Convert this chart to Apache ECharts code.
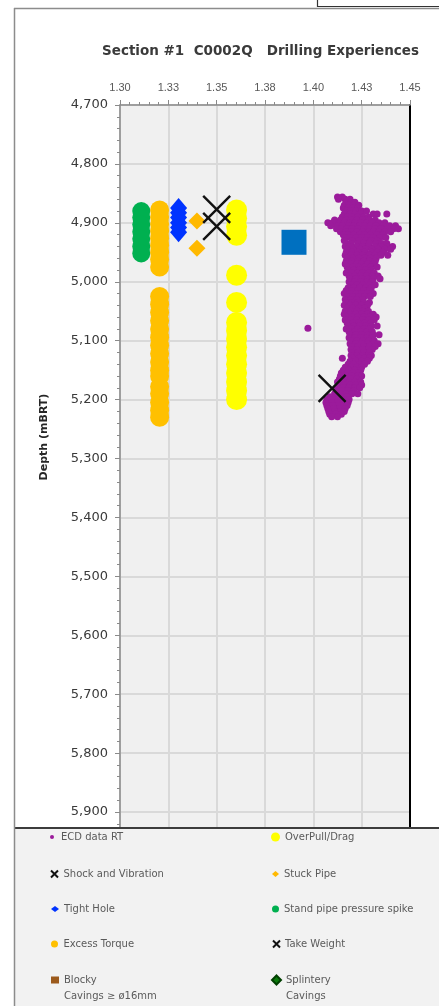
<!DOCTYPE html>
<html>
<head>
<meta charset="utf-8">
<script src="https://cdn.jsdelivr.net/npm/echarts@6.0.0/dist/echarts.min.js"></script>
<style>
  html, body { margin: 0; padding: 0; background: #ffffff; }
  #chart { width: 439px; height: 1006px; }
</style>
</head>
<body>
<div id="chart"></div>
<script>
// ---- Data: density (sg) on x, measured depth (mBRT) on y ----
const xTickLabels = ['1.30', '1.33', '1.35', '1.38', '1.40', '1.43', '1.45'];

// ECD readings grouped by depth: [depth, reading, reading, ...]
const ecdRows = [
  [4856, 1.4125, 1.4150],
  [4860, 1.4130, 1.4165, 1.4190],
  [4865, 1.4170, 1.4195, 1.4215],
  [4870, 1.4160, 1.4185, 1.4210, 1.4235],
  [4875, 1.4155, 1.4180, 1.4205, 1.4230],
  [4880, 1.4170, 1.4195, 1.4220, 1.4250, 1.4275],
  [4885, 1.4160, 1.4190, 1.4215, 1.4245, 1.4310, 1.4330, 1.4380],
  [4890, 1.4150, 1.4175, 1.4200, 1.4230, 1.4260, 1.4285],
  [4895, 1.4110, 1.4140, 1.4170, 1.4200, 1.4225, 1.4255, 1.4290, 1.4320],
  [4900, 1.4075, 1.4100, 1.4135, 1.4160, 1.4190, 1.4215, 1.4245, 1.4275, 1.4305, 1.4340, 1.4370],
  [4905, 1.4090, 1.4125, 1.4150, 1.4185, 1.4210, 1.4240, 1.4265, 1.4295, 1.4325, 1.4360, 1.4395, 1.4425],
  [4910, 1.4120, 1.4145, 1.4175, 1.4200, 1.4230, 1.4260, 1.4290, 1.4320, 1.4350, 1.4385, 1.4415, 1.4440],
  [4915, 1.4140, 1.4170, 1.4195, 1.4225, 1.4255, 1.4285, 1.4310, 1.4340, 1.4370, 1.4400],
  [4920, 1.4155, 1.4180, 1.4210, 1.4240, 1.4265, 1.4295, 1.4330, 1.4360],
  [4925, 1.4165, 1.4190, 1.4220, 1.4250, 1.4280, 1.4310, 1.4345, 1.4375],
  [4930, 1.4160, 1.4200, 1.4235, 1.4270, 1.4300, 1.4330],
  [4935, 1.4170, 1.4195, 1.4230, 1.4260, 1.4290, 1.4325, 1.4355, 1.4380],
  [4940, 1.4165, 1.4190, 1.4225, 1.4255, 1.4285, 1.4320, 1.4350, 1.4385, 1.4410],
  [4945, 1.4175, 1.4205, 1.4240, 1.4270, 1.4305, 1.4335, 1.4370, 1.4400],
  [4950, 1.4170, 1.4200, 1.4230, 1.4265, 1.4300, 1.4330, 1.4360],
  [4955, 1.4165, 1.4195, 1.4225, 1.4255, 1.4290, 1.4320, 1.4350, 1.4385],
  [4960, 1.4175, 1.4205, 1.4235, 1.4265, 1.4295, 1.4325],
  [4965, 1.4170, 1.4200, 1.4230, 1.4260, 1.4290, 1.4320],
  [4970, 1.4165, 1.4195, 1.4225, 1.4250, 1.4280, 1.4310],
  [4975, 1.4175, 1.4205, 1.4235, 1.4265, 1.4295, 1.4330],
  [4980, 1.4180, 1.4210, 1.4240, 1.4270, 1.4300],
  [4985, 1.4170, 1.4200, 1.4230, 1.4255, 1.4285, 1.4315],
  [4990, 1.4185, 1.4215, 1.4245, 1.4275, 1.4305, 1.4335],
  [4995, 1.4190, 1.4220, 1.4250, 1.4280, 1.4310, 1.4345],
  [5000, 1.4185, 1.4215, 1.4245, 1.4275, 1.4305],
  [5005, 1.4195, 1.4225, 1.4255, 1.4290, 1.4320],
  [5010, 1.4180, 1.4210, 1.4240, 1.4270, 1.4300],
  [5015, 1.4170, 1.4200, 1.4230, 1.4260, 1.4290],
  [5020, 1.4160, 1.4190, 1.4220, 1.4250, 1.4280, 1.4310],
  [5025, 1.4175, 1.4205, 1.4235, 1.4265, 1.4295],
  [5030, 1.4165, 1.4195, 1.4225, 1.4255],
  [5035, 1.4170, 1.4200, 1.4230, 1.4260, 1.4290],
  [5040, 1.4160, 1.4190, 1.4220, 1.4250, 1.4280],
  [5045, 1.4175, 1.4205, 1.4235, 1.4265],
  [5050, 1.4165, 1.4195, 1.4225, 1.4255, 1.4285],
  [5055, 1.4160, 1.4190, 1.4220, 1.4250, 1.4280, 1.4310],
  [5060, 1.4170, 1.4200, 1.4230, 1.4260, 1.4290, 1.4325],
  [5065, 1.4165, 1.4195, 1.4225, 1.4255, 1.4285, 1.4315],
  [5070, 1.4175, 1.4205, 1.4235, 1.4265, 1.4295],
  [5075, 1.4180, 1.4210, 1.4240, 1.4270, 1.4300, 1.4330],
  [5080, 1.4170, 1.4200, 1.4230, 1.4260, 1.4290],
  [5085, 1.4185, 1.4215, 1.4245, 1.4275, 1.4305],
  [5090, 1.4190, 1.4220, 1.4250, 1.4280, 1.4310, 1.4340],
  [5095, 1.4185, 1.4215, 1.4245, 1.4275, 1.4305],
  [5100, 1.4195, 1.4225, 1.4255, 1.4285, 1.4315],
  [5105, 1.4190, 1.4220, 1.4250, 1.4280, 1.4310, 1.4335],
  [5110, 1.4200, 1.4230, 1.4260, 1.4290, 1.4320],
  [5115, 1.4195, 1.4225, 1.4255, 1.4285, 1.4305],
  [5120, 1.4200, 1.4230, 1.4260, 1.4290],
  [5125, 1.4195, 1.4225, 1.4255, 1.4285, 1.4300],
  [5130, 1.4150, 1.4205, 1.4235, 1.4265, 1.4290],
  [5135, 1.4190, 1.4220, 1.4250, 1.4280],
  [5140, 1.4180, 1.4210, 1.4240, 1.4265],
  [5145, 1.4165, 1.4195, 1.4225, 1.4250],
  [5150, 1.4155, 1.4185, 1.4215, 1.4245],
  [5155, 1.4145, 1.4175, 1.4205, 1.4235],
  [5160, 1.4140, 1.4170, 1.4200, 1.4230, 1.4250],
  [5165, 1.4135, 1.4165, 1.4195, 1.4225],
  [5170, 1.4125, 1.4155, 1.4185, 1.4215, 1.4245],
  [5175, 1.4130, 1.4160, 1.4190, 1.4220, 1.4250],
  [5180, 1.4125, 1.4155, 1.4185, 1.4215, 1.4240],
  [5185, 1.4120, 1.4150, 1.4180, 1.4210],
  [5190, 1.4110, 1.4140, 1.4170, 1.4200, 1.4230],
  [5195, 1.4085, 1.4115, 1.4145, 1.4175],
  [5200, 1.4070, 1.4100, 1.4130, 1.4160, 1.4185],
  [5205, 1.4065, 1.4095, 1.4125, 1.4155, 1.4180],
  [5210, 1.4070, 1.4100, 1.4130, 1.4160, 1.4175],
  [5215, 1.4075, 1.4105, 1.4135, 1.4165],
  [5220, 1.4080, 1.4110, 1.4140, 1.4160],
  [5225, 1.4085, 1.4115, 1.4145],
  [5229, 1.4095, 1.4125],
  [5079, 1.3972]
];

const overPull = [
  [1.3603, 4878], [1.3603, 4892], [1.3603, 4906], [1.3603, 4921],
  [1.3603, 4989], [1.3603, 5035],
  [1.3603, 5069], [1.3603, 5083], [1.3603, 5097], [1.3603, 5111], [1.3603, 5125],
  [1.3603, 5140], [1.3603, 5155], [1.3603, 5170], [1.3603, 5185], [1.3603, 5200]
];
const shockVibration = [[1.3500, 4877], [1.3500, 4906]];
const stuckPipe = [[1.3398, 4897], [1.3398, 4943]];
const tightHole = [
  [1.3303, 4875], [1.3303, 4883], [1.3303, 4891], [1.3303, 4900], [1.3303, 4908], [1.3303, 4916]
];
const standPipeSpike = [
  [1.3110, 4880], [1.3110, 4891], [1.3110, 4903], [1.3110, 4915],
  [1.3110, 4927], [1.3110, 4940], [1.3110, 4952]
];
const excessTorque = [
  [1.3205, 4878], [1.3205, 4890], [1.3205, 4902], [1.3205, 4914], [1.3205, 4926],
  [1.3205, 4938], [1.3205, 4950], [1.3205, 4962], [1.3205, 4975],
  [1.3205, 5025], [1.3205, 5038], [1.3205, 5052], [1.3205, 5066], [1.3205, 5080],
  [1.3205, 5094], [1.3205, 5108], [1.3205, 5122], [1.3205, 5136], [1.3205, 5150],
  [1.3205, 5160], [1.3205, 5178], [1.3205, 5190], [1.3205, 5205], [1.3205, 5218], [1.3205, 5230]
];
const takeWeight = [[1.4097, 5181]];
const blockyCavings = [];
const splinteryCavings = [];
const mudWeight = [[1.3900, 4933]];

// ---- Build ----
const ecdPoints = [];
ecdRows.forEach(function (row) {
  for (let i = 1; i < row.length; i++) ecdPoints.push([row[i], row[0]]);
});

const crossPath = 'path://M0,0L20,20M20,0L0,20';
const axisGray = '#8a8a8a';
const gridGray = '#d9d9d9';

// legend layout: one small legend per entry so each keeps its own icon size
const legendLayout = [
  { name: 'ECD data RT',               x: 50,  y: 837, w: 8, h: 4 },
  { name: 'OverPull/Drag',             x: 271, y: 837, w: 9, h: 9 },
  { name: 'Shock and Vibration',       x: 50,  y: 874, w: 8, h: 7 },
  { name: 'Stuck Pipe',                x: 272, y: 874, w: 7, h: 6 },
  { name: 'Tight Hole',                x: 51,  y: 909, w: 8, h: 6 },
  { name: 'Stand pipe pressure spike', x: 272, y: 909, w: 7, h: 7 },
  { name: 'Excess Torque',             x: 51,  y: 944, w: 8, h: 7 },
  { name: 'Take Weight',               x: 272, y: 944, w: 7, h: 7 },
  { name: 'Blocky Cavings',            x: 51,  y: 980, w: 8, h: 7, text: ' \nBlocky\nCavings \u2265 \u00f816mm' },
  { name: 'Splintery Cavings',         x: 271, y: 980, w: 9, h: 9, text: ' \nSplintery\nCavings' }
];

const legends = legendLayout.map(function (it) {
  const multi = !!it.text;
  const lineH = multi ? 16 : 14;
  const boxH = multi ? lineH * 3 : lineH;
  return {
    left: it.x,
    top: it.y - boxH / 2,
    padding: 0,
    itemWidth: it.w,
    itemHeight: it.h,
    symbolKeepAspect: true,
    selectedMode: false,
    z: 60,
    data: [it.name],
    formatter: multi ? function () { return it.text; } : '{name}',
    textStyle: { fontFamily: 'DejaVu Sans', fontSize: 10, color: '#5a5a5a', lineHeight: lineH }
  };
});

const solid = { opacity: 1 };

const chart = echarts.init(document.getElementById('chart'), null, { renderer: 'canvas' });

chart.setOption({
  animation: false,
  backgroundColor: '#ffffff',
  title: {
    text: 'Section #1  C0002Q   Drilling Experiences',
    left: 102,
    top: 44,
    padding: 0,
    textStyle: { fontFamily: 'DejaVu Sans', fontWeight: 'bold', fontSize: 13.5, color: '#3a3a3a' }
  },
  legend: legends,
  grid: {
    left: 120, right: 29, top: 105, bottom: 135,
    show: true, backgroundColor: '#f0f0f0', borderWidth: 0
  },
  xAxis: {
    type: 'value',
    position: 'top',
    min: 1.30, max: 1.45, interval: 0.025,
    axisLine: { show: true, onZero: false, lineStyle: { color: axisGray, width: 1.5 } },
    axisTick: { show: true, length: 5, lineStyle: { color: axisGray, width: 1 } },
    minorTick: { show: true, splitNumber: 5, length: 3, lineStyle: { color: axisGray, width: 1 } },
    splitLine: { show: true, lineStyle: { color: gridGray, width: 2 } },
    axisLabel: {
      margin: 12,
      fontFamily: 'Liberation Sans', fontSize: 11, color: '#595959',
      formatter: function (v) { return xTickLabels[Math.round((v - 1.30) / 0.025)]; }
    }
  },
  yAxis: [
    {
      type: 'value',
      inverse: true,
      min: 4700, max: 6000, interval: 100,
      axisLine: { show: true, onZero: false, lineStyle: { color: axisGray, width: 1.5 } },
      axisTick: { show: true, length: 5, lineStyle: { color: axisGray, width: 1 } },
      minorTick: { show: true, splitNumber: 5, length: 3, lineStyle: { color: axisGray, width: 1 } },
      splitLine: { show: true, lineStyle: { color: gridGray, width: 2 } },
      axisLabel: {
        margin: 12,
        fontFamily: 'DejaVu Sans', fontSize: 13, color: '#3a3a3a',
        formatter: function (v) { return String(v).replace(/(\d)(\d{3})$/, '$1,$2'); }
      }
    },
    {
      type: 'value',
      position: 'right',
      inverse: true,
      min: 4700, max: 6000, interval: 100,
      axisLine: { show: true, onZero: false, lineStyle: { color: '#000000', width: 2 } },
      axisTick: { show: false },
      axisLabel: { show: false },
      splitLine: { show: false }
    }
  ],
  series: [
    {
      name: 'ECD data RT', type: 'scatter', data: ecdPoints,
      symbol: 'circle', symbolSize: 7,
      itemStyle: Object.assign({ color: '#9b1b9b' }, solid)
    },
    {
      name: 'OverPull/Drag', type: 'scatter', data: overPull,
      symbol: 'circle', symbolSize: 21,
      itemStyle: Object.assign({ color: '#ffff00' }, solid)
    },
    {
      name: 'Stuck Pipe', type: 'scatter', data: stuckPipe,
      symbol: 'diamond', symbolSize: 17,
      itemStyle: Object.assign({ color: '#ffb900' }, solid)
    },
    {
      name: 'Tight Hole', type: 'scatter', data: tightHole,
      symbol: 'diamond', symbolSize: [17, 20],
      itemStyle: Object.assign({ color: '#0033ff' }, solid)
    },
    {
      name: 'Stand pipe pressure spike', type: 'scatter', data: standPipeSpike,
      symbol: 'circle', symbolSize: 18,
      itemStyle: Object.assign({ color: '#00b050' }, solid)
    },
    {
      name: 'Excess Torque', type: 'scatter', data: excessTorque,
      symbol: 'circle', symbolSize: 19,
      itemStyle: Object.assign({ color: '#ffc000' }, solid)
    },
    {
      name: 'Mud Weight', type: 'scatter', data: mudWeight,
      symbol: 'rect', symbolSize: 25,
      itemStyle: Object.assign({ color: '#0070c0' }, solid)
    },
    {
      name: 'Shock and Vibration', type: 'scatter', data: shockVibration,
      symbol: crossPath, symbolSize: 27,
      itemStyle: Object.assign({ color: 'rgba(0,0,0,0)', borderColor: '#111111', borderWidth: 2.4 }, solid)
    },
    {
      name: 'Take Weight', type: 'scatter', data: takeWeight,
      symbol: crossPath, symbolSize: 27,
      itemStyle: Object.assign({ color: 'rgba(0,0,0,0)', borderColor: '#111111', borderWidth: 2.4 }, solid)
    },
    {
      name: 'Blocky Cavings', type: 'scatter', data: blockyCavings,
      symbol: 'rect', symbolSize: 8,
      itemStyle: Object.assign({ color: '#9c5a1c' }, solid)
    },
    {
      name: 'Splintery Cavings', type: 'scatter', data: splinteryCavings,
      symbol: 'diamond', symbolSize: 9,
      itemStyle: Object.assign({ color: '#0b7a0b', borderColor: '#004000', borderWidth: 1 }, solid)
    }
  ],
  graphic: [
    // outer frame of the chart sheet
    { type: 'line', z: 70, shape: { x1: 14.5, y1: 8, x2: 14.5, y2: 1006 }, style: { stroke: '#8c8c8c', lineWidth: 1.5 } },
    { type: 'line', z: 70, shape: { x1: 14, y1: 8.5, x2: 439, y2: 8.5 }, style: { stroke: '#8c8c8c', lineWidth: 1.5 } },
    // neighbouring box at the top edge
    { type: 'rect', z: 70, shape: { x: 317.5, y: -2, width: 130, height: 8.5 }, style: { fill: '#ffffff', stroke: '#333333', lineWidth: 1.2 } },
    // legend panel
    { type: 'rect', z: 50, shape: { x: 15, y: 828, width: 430, height: 180 }, style: { fill: '#f2f2f2' } },
    { type: 'line', z: 51, shape: { x1: 14, y1: 828, x2: 439, y2: 828 }, style: { stroke: '#3c3c3c', lineWidth: 2 } },
    // depth axis title
    {
      type: 'text', z: 55, x: 44, y: 437, rotation: Math.PI / 2,
      style: {
        text: 'Depth (mBRT)', fontFamily: 'DejaVu Sans', fontWeight: 'bold', fontSize: 11,
        fill: '#262626', align: 'center', verticalAlign: 'middle'
      }
    }
  ]
});
</script>
</body>
</html>
